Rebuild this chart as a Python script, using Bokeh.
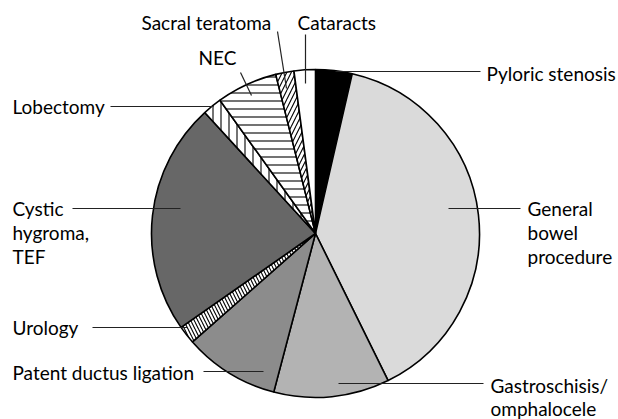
import math
from bokeh.plotting import figure
from bokeh.models import ColumnDataSource, Range1d
from bokeh.core.properties import value
from bokeh.embed import file_html
from bokeh.resources import INLINE

# ---- data (percent of procedures, clockwise from 12 o'clock) ----
categories = ["Pyloric stenosis", "General bowel procedure", "Gastroschisis/omphalocele",
              "Patent ductus ligation", "Urology", "Cystic hygroma, TEF", "Lobectomy",
              "NEC", "Sacral teratoma", "Cataracts"]
shares = [3.6, 39.1, 11.4, 9.4, 1.8, 22.9, 1.9, 6.0, 1.8, 2.1]

# ---- styles ----
fills = ["#000000", "#dadada", "#b3b3b3", "#8c8c8c", "#ffffff", "#676767",
         "#ffffff", "#ffffff", "#ffffff", "#ffffff"]
hatches = [" ", " ", " ", " ", "\\", " ", "|", "-", "/", " "]
hatch_scales = [8, 8, 8, 8, 7, 8, 8, 8, 9, 8]

W, H = 618, 419
# data coords == reference pixel coords (x), y flipped: y_data = H - y_img
def Y(y):
    return H - y

CX, CY, R = 315, Y(233), 164

total = sum(shares)
cum = [0.0]
for s in shares:
    cum.append(cum[-1] + s)
start = [math.pi / 2 - 2 * math.pi * cum[i + 1] / total for i in range(len(shares))]
end = [math.pi / 2 - 2 * math.pi * cum[i] / total for i in range(len(shares))]

src = ColumnDataSource(dict(cat=categories, val=shares, start=start, end=end,
                            fill=fills, hatch=hatches, hs=hatch_scales))

p = figure(width=W, height=H, output_backend="svg", toolbar_location=None,
           x_range=Range1d(0, W), y_range=Range1d(0, H),
           min_border=0)
p.axis.visible = False
p.grid.visible = False
p.outline_line_color = None
p.background_fill_color = "white"

p.wedge(x=CX, y=CY, radius=R, start_angle="start", end_angle="end", source=src,
        fill_color="fill", line_color="black", line_width=1.6,
        hatch_pattern="hatch", hatch_color="black", hatch_weight=1.1, hatch_scale="hs")

# ---- leader lines (layout) ----
leaders = [
    (335, 71, 480, 71),     # Pyloric
    (448, 208, 520, 208),   # General bowel
    (338, 383, 483, 383),   # Gastroschisis
    (203, 371, 263, 371),   # Patent ductus
    (92, 327, 187, 327),    # Urology
    (72, 208, 180, 208),    # Cystic
    (110, 106, 213, 106),   # Lobectomy
    (240, 72, 251, 95),     # NEC
    (277, 31, 286, 88),     # Sacral
    (305, 34, 305, 83),     # Cataracts
]
p.segment(x0=[l[0] for l in leaders], y0=[Y(l[1]) for l in leaders],
          x1=[l[2] for l in leaders], y1=[Y(l[3]) for l in leaders],
          line_color="#222222", line_width=1.2)

# ---- labels (layout) ----
label_lines = [
    ("Pyloric stenosis", 486, 73),
    ("General", 527, 208),
    ("bowel", 527, 232),
    ("procedure", 527, 256),
    ("Gastroschisis/", 490, 385),
    ("omphalocele", 490, 408),
    ("Patent ductus ligation", 12, 372),
    ("Urology", 12, 327),
    ("Cystic", 12, 208),
    ("hygroma,", 12, 232),
    ("TEF", 12, 256),
    ("Lobectomy", 12, 106),
    ("NEC", 198, 57),
    ("Sacral teratoma", 141, 22),
    ("Cataracts", 297, 22),
]
p.text(x=[t[1] for t in label_lines], y=[Y(t[2]) for t in label_lines],
       text=[t[0] for t in label_lines], text_align="left", text_baseline="middle",
       text_font=value("Lato"), text_font_size=value("19px"), text_color="black")

open("out.html", "w").write(file_html(p, INLINE))
